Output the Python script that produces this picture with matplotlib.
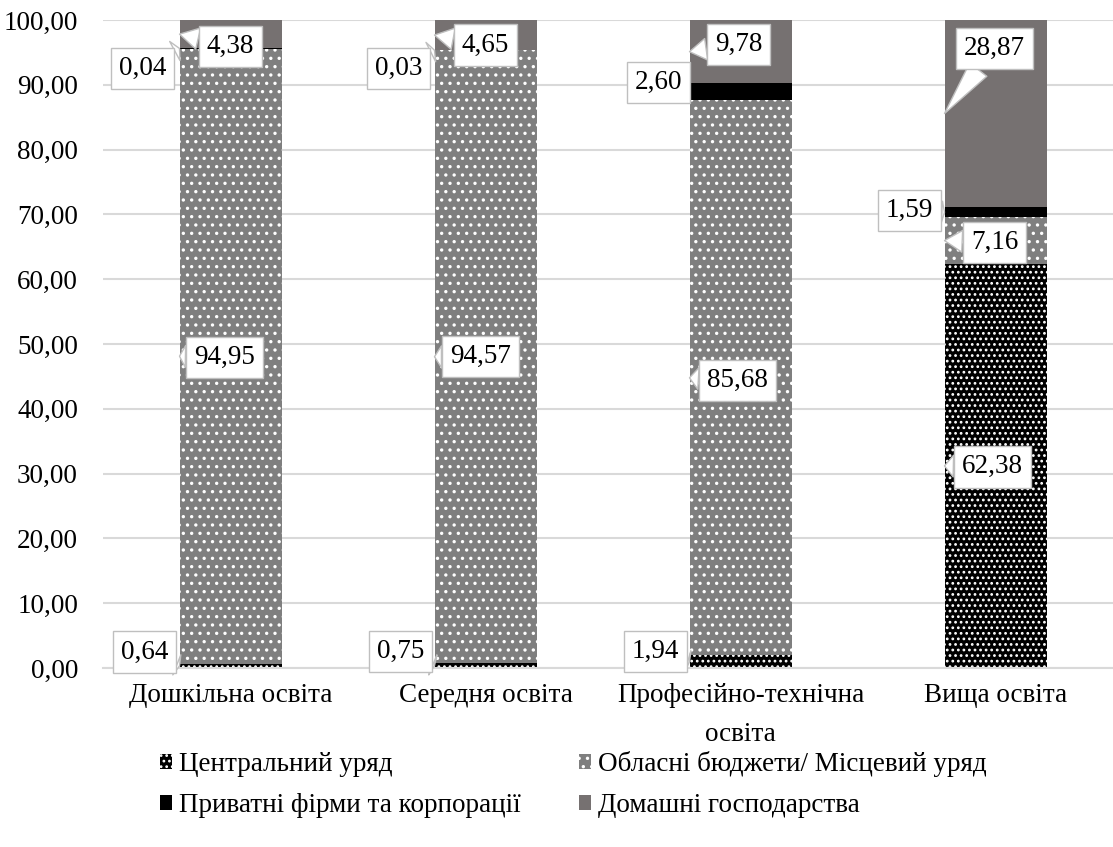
import matplotlib
matplotlib.use("Agg")
import matplotlib.pyplot as plt
import numpy as np

plt.rcParams['font.family'] = ['Liberation Serif', 'DejaVu Serif']
plt.rcParams['hatch.linewidth'] = 1.2

categories = ["Дошкільна освіта", "Середня освіта", "Професійно-технічна\nосвіта", "Вища освіта"]
series_names = ["Центральний уряд", "Обласні бюджети/ Місцевий уряд",
                "Приватні фірми та корпорації", "Домашні господарства"]
central = [0.64, 0.75, 1.94, 62.38]
regional = [94.95, 94.57, 85.68, 7.16]
private = [0.04, 0.03, 2.60, 1.59]
households = [4.38, 4.65, 9.78, 28.87]
yticks = [0, 10, 20, 30, 40, 50, 60, 70, 80, 90, 100]

# label offsets (pixels) from the anchor (bar left edge, segment middle)
label_offsets = {
    0: [(-35, 14), (45, -1), (-37, -20), (51, -12)],
    1: [(-34, 14), (46, 0), (-36, -18), (51, -10)],
    2: [(-34, 10), (48, -3), (-31, 9), (49, 7)],
    3: [(48, -1), (50, -2), (-35, 2), (50, 65)],
}
FS = 19.5

W, H = 1113, 847
fig = plt.figure(figsize=(W / 100, H / 100), dpi=100)
ax = fig.add_axes([103 / W, 1 - 668 / H, 1 - 103 / W, (668 - 20) / H])

x = np.arange(len(categories))
bw = 0.4
series = [central, regional, private, households]
styles = [
    dict(color='black', edgecolor='white', linewidth=0, hatch='...'),
    dict(color='#7f7f7f', edgecolor='white', linewidth=0, hatch='..'),
    dict(color='black', linewidth=0),
    dict(color='#767171', linewidth=0),
]
bottom = np.zeros(len(categories))
bars = []
for vals, st, name in zip(series, styles, series_names):
    b = ax.bar(x, vals, bw, bottom=bottom, label=name, zorder=2, **st)
    bars.append(b)
    bottom = bottom + np.array(vals)

# data labels with callouts
for i in range(len(categories)):
    bot = 0.0
    for s, vals in enumerate(series):
        v = vals[i]
        mid = bot + v / 2
        bot += v
        dx, dy = label_offsets[i][s]
        txt = f"{v:.2f}".replace('.', ',')
        ax.annotate(txt, xy=(x[i] - bw / 2, mid), xytext=(dx, dy),
                    textcoords='offset pixels', ha='center', va='center',
                    fontsize=FS, zorder=5,
                    bbox=dict(boxstyle='square,pad=0.3', fc='white', ec='#bfbfbf', lw=1),
                    arrowprops=dict(arrowstyle='wedge,tail_width=0.8,shrink_factor=0.5',
                                    fc='white', ec='#bfbfbf', lw=1,
                                    shrinkA=0, shrinkB=0))

ax.set_xlim(-0.5, -0.5 + (W - 103) / 255)
ax.set_ylim(0, 100)
ax.set_yticks(yticks)
ax.set_yticklabels([f"{t:.2f}".replace('.', ',') for t in yticks], fontsize=FS)
ax.set_xticks(x)
ax.set_xticklabels(categories, fontsize=FS, linespacing=1.7)
ax.tick_params(axis='both', length=0)
ax.tick_params(axis='y', pad=18)
ax.tick_params(axis='x', pad=11)
ax.grid(axis='y', color='#d9d9d9', lw=1.5, zorder=0)
ax.set_axisbelow(True)
for sp in ['top', 'right', 'left']:
    ax.spines[sp].set_visible(False)
ax.spines['bottom'].set_color('#d9d9d9')
ax.spines['bottom'].set_linewidth(1.5)

handles = [bars[0], bars[2], bars[1], bars[3]]
labels = [series_names[0], series_names[2], series_names[1], series_names[3]]
fig.legend(handles, labels, loc='upper left', bbox_to_anchor=(160 / W, 1 - 751 / H),
           ncol=2, frameon=False, fontsize=FS, handlelength=0.45, handleheight=0.45,
           handletextpad=0.25, columnspacing=2.15, labelspacing=0.6, borderpad=0,
           borderaxespad=0)

fig.savefig('out.png', dpi=100)
